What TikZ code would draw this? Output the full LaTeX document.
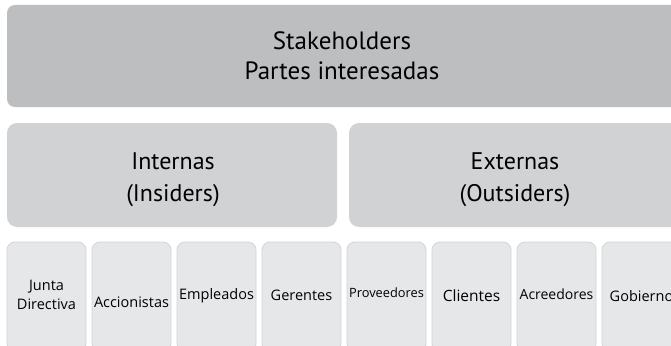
\documentclass[tikz,border=0pt]{standalone}
\usepackage{fontspec}
\newfontfamily\hdfont{PT Sans}
\newfontfamily\smfont{Open Sans}
\definecolor{topgray}{HTML}{BDBEC0}
\definecolor{midgray}{HTML}{D1D2D4}
\definecolor{lowgray}{HTML}{E6E7E8}
\definecolor{lowedge}{HTML}{D3D4D6}
\definecolor{txt}{HTML}{000000}
\tikzset{
  topbox/.style={fill=topgray, rounded corners=8pt},
  midbox/.style={fill=midgray, rounded corners=10pt},
  lowbox/.style={fill=lowgray, draw=lowedge, line width=0.8pt, rounded corners=8pt},
  hdtext/.style={anchor=base, inner sep=0pt, text=txt, font=\hdfont\fontsize{25}{28}\selectfont},
  midtext/.style={anchor=base, inner sep=0pt, text=txt, font=\hdfont\fontsize{24}{26}\selectfont},
  lowtext/.style={anchor=base, inner sep=0pt, text=txt, font=\smfont\fontsize{14.5}{16}\selectfont},
}
\begin{document}
\begin{tikzpicture}[x=1pt,y=-1pt]
\useasboundingbox (0,0) rectangle (671,345);
\clip (0,0) rectangle (671,345);
\fill[white] (0,0) rectangle (671,345);
% top
\path[topbox] (7,5) rectangle (680,107);
\node[hdtext] (stk) at (342,49) {Stakeholders};
\node[hdtext] (par) at (342,79) {Partes interesadas};
% middle
\path[midbox] (7,123) rectangle (337,227);
\path[midbox] (349,123) rectangle (682,227);
\node[midtext] (int) at (173,169) {Internas};
\node[midtext] (ins) at (173,201) {(Insiders)};
\node[midtext] (ext) at (515,169) {Externas};
\node[midtext] (out) at (515,201) {(Outsiders)};
% bottom
\foreach \x in {7,92,177,262,347,432,517,602}{
  \path[lowbox] (\x,242) rectangle ++(79,110);
}
\node[lowtext] (jun) at (46.5,290) {Junta};
\node[lowtext] (dir) at (46.5,309) {Directiva};
\node[lowtext] (acc) at (131.5,307) {Accionistas};
\node[lowtext] (emp) at (216.5,299) {Empleados};
\node[lowtext] (ger) at (301.5,300) {Gerentes};
\node[lowtext, font=\smfont\fontsize{12.8}{14}\selectfont] (pro) at (386.5,297) {Proveedores};
\node[lowtext, font=\smfont\fontsize{15.5}{16}\selectfont] (cli) at (471.5,301) {Clientes};
\node[lowtext, font=\smfont\fontsize{14}{16}\selectfont] (acr) at (556.5,299) {Acreedores};
\node[lowtext] (gob) at (641.5,301) {Gobierno};
\end{tikzpicture}
\end{document}
